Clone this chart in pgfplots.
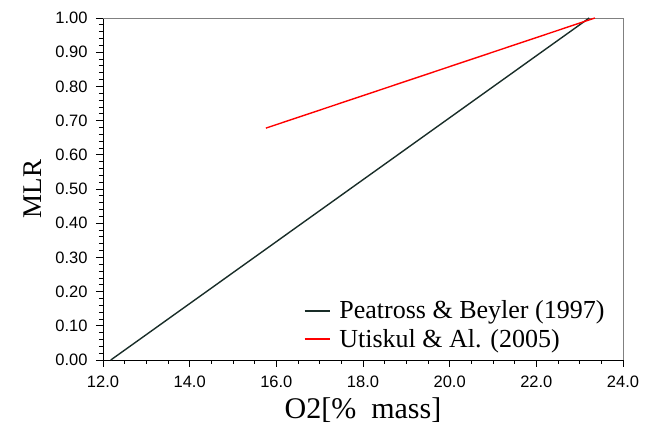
\documentclass[border=0pt]{standalone}
\usepackage{pgfplots}
\pgfplotsset{compat=1.18}
\usepackage{fontspec}
\setmainfont{Liberation Serif}
\newfontfamily\arialfont{Liberation Sans}
\definecolor{darkline}{RGB}{25,45,40}
\begin{document}
\begin{tikzpicture}
\useasboundingbox (-103pt,-67pt) rectangle (547pt,360pt);
\begin{axis}[
  scale only axis,
  width=520pt, height=342pt,
  xmin=12, xmax=24, ymin=0, ymax=1,
  xtick={12,14,...,24},
  ytick={0,0.1,...,1.0},
  minor x tick num=3,
  minor y tick num=4,
  tick align=outside,
  major tick length=7pt,
  minor tick length=4pt,
  axis x line*=bottom,
  axis y line*=left,
  axis line style={black, line width=0.8pt, -},
  tick style={black, line width=0.8pt},
  /pgf/number format/assume math mode=true,
  xticklabel style={font=\arialfont\fontsize{16.5}{18}\selectfont, yshift=-5pt, /pgf/number format/.cd, fixed, fixed zerofill, precision=1},
  yticklabel style={font=\arialfont\fontsize{16.5}{18}\selectfont, xshift=-5pt, /pgf/number format/.cd, fixed, fixed zerofill, precision=2},
  xlabel={O2[\%\ \ mass]},
  ylabel={MLR},
  xlabel style={font=\fontsize{30}{32}\selectfont, at={(rel axis cs:0.5,0)}, anchor=center, yshift=-50pt},
  ylabel style={font=\fontsize{27}{29}\selectfont, at={(axis description cs:-0.135,0.5)}, anchor=center},
  legend style={draw=none, fill=none, at={(rel axis cs:0.38,0.02)}, anchor=south west, row sep=5pt,
    nodes={font=\fontsize{26}{28}\selectfont}},
  legend cell align=left,
  legend image code/.code={\draw[#1, line width=1.8pt] (0pt,0pt) -- (25pt,0pt); \path (32pt,0pt);},
  clip=false,
]
\draw[gray, line width=0.8pt] (rel axis cs:0,1) -- (rel axis cs:1,1) -- (rel axis cs:1,0);
\addplot[darkline, line width=1.4pt] coordinates {(12.18,0) (23.22,1.0)};
\addlegendentry{Peatross \& Beyler (1997)}
\addplot[red, line width=1.4pt] coordinates {(15.76,0.678) (23.35,1.0)};
\addlegendentry{Utiskul \& Al. (2005)}
\end{axis}
\end{tikzpicture}
\end{document}
